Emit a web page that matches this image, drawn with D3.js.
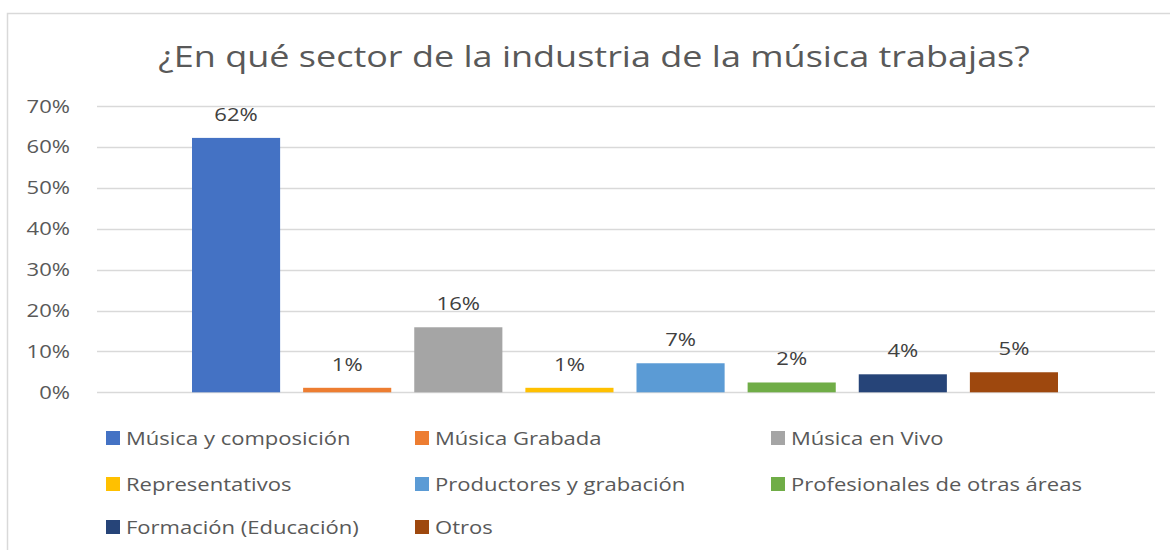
<!DOCTYPE html>
<html>
<head>
<meta charset="utf-8">
<script src="https://cdn.jsdelivr.net/npm/d3@7"></script>
<style>
  body { margin: 0; background: #fff; }
  svg { font-family: "Open Sans", sans-serif; }
</style>
</head>
<body>
<div id="chart"></div>
<script>
const TITLE = "¿En qué sector de la industria de la música trabajas?";
const SERIES = ["Música y composición", "Música Grabada", "Música en Vivo", "Representativos",
                "Productores y grabación", "Profesionales de otras áreas", "Formación (Educación)", "Otros"];
const VALUES = [62.2, 1.1, 15.9, 1.1, 7.1, 2.4, 4.4, 4.9];
const COLORS = ["#4472c4", "#ed7d31", "#a5a5a5", "#ffc000", "#5b9bd5", "#70ad47", "#264478", "#9e480e"];
const Y_TICKS = [0, 10, 20, 30, 40, 50, 60, 70];

const WIDTH = 1170;
const HEIGHT = 550;
const TEXT_COLOR = "#595959";
// the original picture is a bit stretched sideways
const STRETCH = 1.16;

let svg = d3.select("#chart")
            .append("svg")
            .attr("width", WIDTH)
            .attr("height", HEIGHT);

// chart area border
svg.append("rect")
   .attr("x", 7.5)
   .attr("y", 13.5)
   .attr("width", WIDTH + 20)
   .attr("height", HEIGHT + 20)
   .attr("fill", "#fff")
   .attr("stroke", "#d9d9d9")
   .attr("stroke-width", 1.5);

svg.append("g")
   .attr("transform", "translate(594,67) scale(1.2,1)")
   .append("text")
   .attr("text-anchor", "middle")
   .attr("font-size", "30px")
   .attr("fill", TEXT_COLOR)
   .text(TITLE);

const Y_SCALE = d3.scaleLinear()
                  .domain([0, 70])
                  .range([392.3, 106]);

const X_SCALE = d3.scaleBand()
                  .domain(SERIES)
                  .range([192, 1058])
                  .paddingInner(0.207)
                  .paddingOuter(0);

// gridlines
svg.append("g")
   .selectAll("line")
   .data(Y_TICKS)
   .enter()
   .append("line")
   .attr("x1", 97)
   .attr("x2", 1155)
   .attr("y1", (d) => Math.round(Y_SCALE(d)) + 0.5)
   .attr("y2", (d) => Math.round(Y_SCALE(d)) + 0.5)
   .attr("stroke", "#d9d9d9")
   .attr("stroke-width", 1.5);

// y axis labels
const Y_AXIS = d3.axisLeft(Y_SCALE)
                 .tickValues(Y_TICKS)
                 .tickFormat((d) => d + "%")
                 .tickSize(0)
                 .tickPadding(0);

let yAxis = svg.append("g")
               .attr("transform", "translate(70,0)")
               .call(Y_AXIS);
yAxis.select(".domain").remove();
yAxis.selectAll("text")
     .attr("font-size", "19px")
     .attr("font-family", "Open Sans, sans-serif")
     .attr("fill", TEXT_COLOR)
     .attr("transform", "scale(" + STRETCH + ",1)");

// bars
svg.append("g")
   .selectAll("rect")
   .data(VALUES)
   .enter()
   .append("rect")
   .attr("x", (d, i) => X_SCALE(SERIES[i]))
   .attr("y", (d) => Y_SCALE(d))
   .attr("width", X_SCALE.bandwidth())
   .attr("height", (d) => Y_SCALE(0) - Y_SCALE(d))
   .attr("fill", (d, i) => COLORS[i]);

// data labels
svg.append("g")
   .selectAll("g")
   .data(VALUES)
   .enter()
   .append("g")
   .attr("transform", (d, i) => "translate(" + (X_SCALE(SERIES[i]) + X_SCALE.bandwidth() / 2) + "," + (Y_SCALE(d) - 17) + ") scale(" + STRETCH + ",1)")
   .append("text")
   .attr("text-anchor", "middle")
   .attr("font-size", "19px")
   .attr("fill", "#404040")
   .text((d) => Math.round(d) + "%");

// legend
const LEGEND_COLS = [106, 415, 771];
const LEGEND_ROWS = [438, 484, 527];

let legend = svg.append("g")
                .selectAll("g")
                .data(SERIES)
                .enter()
                .append("g")
                .attr("transform", (d, i) => "translate(" + LEGEND_COLS[i % 3] + "," + LEGEND_ROWS[Math.floor(i / 3)] + ")");

legend.append("rect")
      .attr("x", 0)
      .attr("y", -7)
      .attr("width", 14)
      .attr("height", 14)
      .attr("fill", (d, i) => COLORS[i]);

legend.append("text")
      .attr("transform", "translate(20,7) scale(" + STRETCH + ",1)")
      .attr("font-size", "19px")
      .attr("fill", TEXT_COLOR)
      .text((d) => d);
</script>
</body>
</html>
